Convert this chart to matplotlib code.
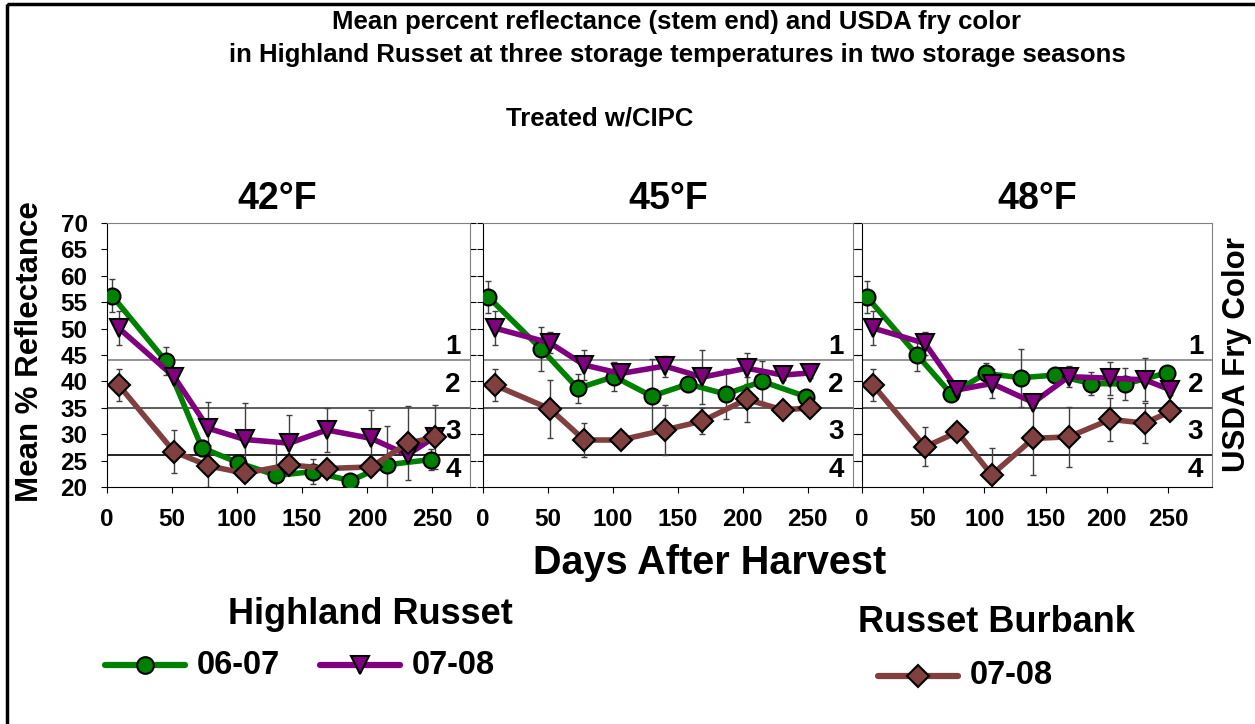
import matplotlib
matplotlib.use("Agg")
import matplotlib.pyplot as plt
from matplotlib.lines import Line2D
from matplotlib.patches import Rectangle

plt.rcParams['font.family'] = ['Liberation Sans', 'DejaVu Sans']
plt.rcParams['font.weight'] = 'bold'

# sampling days (days after harvest)
days_0607 = [4, 45, 73, 101, 130, 158, 187, 215, 249]
days_0708 = [9, 51.5, 78, 106, 140, 169, 203, 231, 252]

temps = ["42°F", "45°F", "48°F"]

# Highland Russet 06-07 (mean % reflectance and error)
hr0607 = [
    [56.2, 43.9, 27.4, 24.6, 22.2, 22.9, 21.2, 24.2, 25.2],
    [56.0, 46.1, 38.7, 40.9, 37.2, 39.5, 37.6, 40.0, 37.1],
    [56.0, 45.0, 37.6, 41.5, 40.7, 41.2, 39.6, 39.5, 41.6],
]
hr0607_err = [
    [3.1, 2.7, 1.5, 1.0, 6.5, 2.4, 1.0, 7.4, 2.0],
    [3.0, 4.2, 2.7, 2.7, 7.0, 1.0, 4.7, 3.9, 1.0],
    [3.0, 3.0, 1.0, 1.9, 5.5, 1.0, 2.2, 3.0, 1.0],
]

# Highland Russet 07-08
hr0708 = [
    [50.1, 40.9, 31.1, 29.0, 28.3, 30.8, 29.2, 26.1, 29.5],
    [50.1, 47.3, 43.1, 41.5, 42.9, 40.8, 42.5, 41.2, 41.6],
    [50.1, 47.2, 38.4, 39.6, 36.0, 40.9, 40.6, 40.3, 38.4],
]
hr0708_err = [
    [3.2, 0.8, 5.0, 7.0, 5.3, 4.1, 5.3, 1.0, 6.0],
    [3.2, 2.0, 2.9, 1.0, 2.0, 5.1, 2.9, 1.0, 1.0],
    [3.2, 2.2, 1.0, 2.7, 1.0, 2.0, 3.1, 4.1, 1.0],
]

# Russet Burbank 07-08
rb0708 = [
    [39.3, 26.7, 24.0, 22.6, 24.2, 23.5, 23.8, 28.3, 29.4],
    [39.3, 34.8, 28.9, 28.9, 30.8, 32.5, 36.6, 34.6, 35.0],
    [39.3, 27.6, 30.4, 22.3, 29.2, 29.5, 32.8, 32.1, 34.3],
]
rb0708_err = [
    [3.1, 4.1, 4.0, 1.0, 1.0, 1.0, 1.0, 7.0, 1.0],
    [3.1, 5.5, 3.2, 1.0, 4.8, 2.5, 4.2, 1.0, 1.0],
    [3.1, 3.7, 1.0, 5.0, 7.0, 5.7, 4.0, 3.8, 1.5],
]

fry_limits = [44, 35, 26]
fry_labels = ["1", "2", "3", "4"]
fry_label_y = [46.6, 39.3, 30.4, 23.2]

green = "#008000"
purple = "#800080"
brown = "#804040"

W, H = 1255, 724
fig = plt.figure(figsize=(W / 100, H / 100), dpi=100)

# panel placement in pixels: left, right, xmax
panels = [(107, 470, 279), (483, 853, 285), (862, 1212, 286)]
top, bottom = 223, 487

for i, (x0, x1, xmax) in enumerate(panels):
    ax = fig.add_axes([x0 / W, (H - bottom) / H, (x1 - x0) / W, (bottom - top) / H])
    ax.set_xlim(0, xmax)
    ax.set_ylim(20, 70)

    for lim, c in zip(fry_limits, ["#808080", "#404040", "#000000"]):
        ax.axhline(lim, color=c, lw=1.2, zorder=1)

    series = [
        (days_0607, hr0607[i], hr0607_err[i], green, "o", 11.5),
        (days_0708, hr0708[i], hr0708_err[i], purple, "v", 13),
        (days_0708, rb0708[i], rb0708_err[i], brown, "D", 11),
    ]
    for days, vals, err, col, mk, ms in series:
        ax.errorbar(days, vals, yerr=err, fmt="none", ecolor="#404040",
                    elinewidth=1, capsize=2.5, capthick=1, zorder=2)
        ax.plot(days, vals, color=col, lw=4, marker=mk, ms=ms,
                mfc=col, mec="black", mew=1.5, zorder=3)

    trans = ax.get_yaxis_transform()
    for lab, yy in zip(fry_labels, fry_label_y):
        ax.text(0.975, yy, lab, transform=trans, ha="right", va="center",
                fontsize=20, fontweight="bold")

    ax.set_xticks([0, 50, 100, 150, 200, 250])
    ax.set_yticks(range(20, 75, 5))
    ax.tick_params(axis="x", direction="out", length=4, labelsize=17.5, pad=11)
    ax.tick_params(axis="y", direction="out", length=4, labelsize=17.5, pad=10,
                   right=(i < 2), labelleft=(i == 0), left=True)
    for lab in ax.get_xticklabels() + ax.get_yticklabels():
        lab.set_fontweight("bold")
    ax.spines["left"].set_color("black")
    ax.spines["bottom"].set_color("black")
    ax.spines["top"].set_color("#808080")
    ax.spines["right"].set_color("#808080")

    ax.text(0.5 if i else 0.47, 1.09, temps[i], transform=ax.transAxes,
            ha="center", va="center", fontsize=27, fontweight="bold")

# overlay in pixel coordinates for titles, axis labels, legend
ov = fig.add_axes([0, 0, 1, 1], zorder=-1)
ov.set_xlim(0, W)
ov.set_ylim(H, 0)
ov.axis("off")
ov.add_patch(Rectangle((7, 4), W + 20, H + 20, fill=False, ec="black", lw=2.5))

ov.text(677, 22, "Mean percent reflectance (stem end) and USDA fry color",
        ha="center", va="center", fontsize=18.5, fontweight="bold")
ov.text(677, 55, "in Highland Russet at three storage temperatures in two storage seasons",
        ha="center", va="center", fontsize=18.5, fontweight="bold")
ov.text(600, 118, "Treated w/CIPC", ha="center", va="center", fontsize=18.5, fontweight="bold")
ov.text(30, 352, "Mean % Reflectance", rotation=90, ha="center", va="center",
        fontsize=22.5, fontweight="bold")
ov.text(1237, 355, "USDA Fry Color", rotation=90, ha="center", va="center",
        fontsize=22.5, fontweight="bold")
ov.text(710, 563, "Days After Harvest", ha="center", va="center", fontsize=28.5, fontweight="bold")

ov.text(370, 614, "Highland Russet", ha="center", va="center", fontsize=26, fontweight="bold")
ov.text(996, 622, "Russet Burbank", ha="center", va="center", fontsize=26, fontweight="bold")

legend_items = [
    (105, 185, 665, green, "o", 12, "06-07"),
    (320, 400, 665, purple, "v", 13.5, "07-08"),
    (878, 958, 676, brown, "D", 11.5, "07-08"),
]
for lx0, lx1, ly, col, mk, ms, lab in legend_items:
    ov.add_line(Line2D([lx0, lx1], [ly, ly], color=col, lw=4.5, solid_capstyle="round"))
    ov.add_line(Line2D([(lx0 + lx1) / 2], [ly], marker=mk, ms=ms, mfc=col,
                       mec="black", mew=1.5, ls="none"))
    ov.text(lx1 + 12, ly, lab, ha="left", va="center", fontsize=23.5, fontweight="bold")

fig.savefig("out.png", dpi=100)
